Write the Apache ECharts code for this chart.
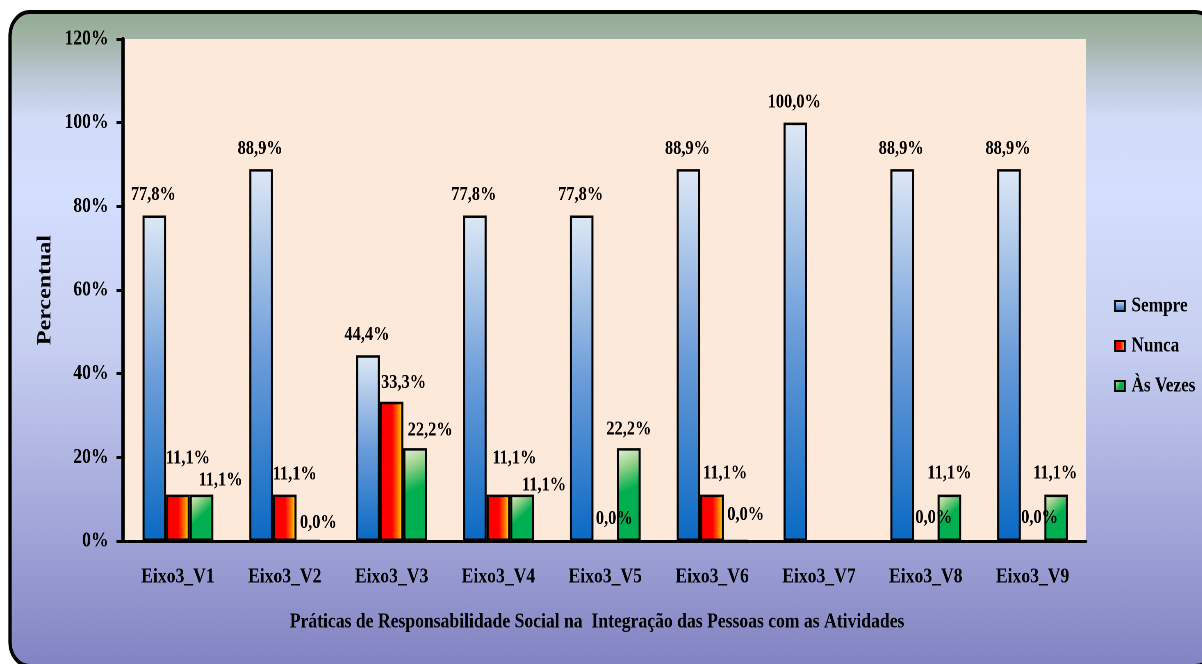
<!DOCTYPE html>
<html>
<head>
<meta charset="utf-8">
<script src="https://cdn.jsdelivr.net/npm/echarts@6/dist/echarts.min.js"></script>
<style>
  html, body { margin: 0; padding: 0; background: #ffffff; overflow: hidden; width: 1202px; height: 664px; }
  /* narrow serif look: the chart is laid out wide and squeezed horizontally */
  #chart { width: 1466px; height: 664px; transform: scaleX(0.82); transform-origin: 0 0; }
</style>
</head>
<body>
<div id="chart"></div>
<script>
// horizontal squeeze factor applied to the chart container
const SX = 0.82;

const categories = ['Eixo3_V1', 'Eixo3_V2', 'Eixo3_V3', 'Eixo3_V4', 'Eixo3_V5', 'Eixo3_V6', 'Eixo3_V7', 'Eixo3_V8', 'Eixo3_V9'];
const seriesNames = ['Sempre', 'Nunca', 'Às Vezes'];
const sempre  = [77.8, 88.9, 44.4, 77.8, 77.8, 88.9, 100.0, 88.9, 88.9];
const nunca   = [11.1, 11.1, 33.3, 11.1, 0.0, 11.1, null, 0.0, 0.0];
const asVezes = [11.1, 0.0, 22.2, 11.1, 22.2, 0.0, null, 11.1, 11.1];
const yTicks  = [0, 20, 40, 60, 80, 100, 120];

const xTitle = 'Práticas de Responsabilidade Social na  Integração das Pessoas com as Atividades';
const yTitle = 'Percentual';

// label nudges (screen px, label centre relative to the top centre of its bar)
const nuncaNudge = [[10, -36], [10, -20], [12, -19], [16, -36], [9, -21], [13, -21], null, [8, -22], [7, -22]];
const vezesNudge = [[19, -14], [10, -17], [15, -18], [22, -9], [0, -19], [10, -25], null, [0, -21], [-1, -21]];

const FONT = "'Liberation Serif', 'Times New Roman', serif";
const LABEL_SIZE = 20;
const G = echarts.graphic.LinearGradient;

const blueFill = new G(0, 0, 0, 1, [
  { offset: 0, color: '#DEE8F5' },
  { offset: 0.5, color: '#6C9DDA' },
  { offset: 1, color: '#0A69C3' }
]);
const redFill = new G(0, 0, 1, 0, [
  { offset: 0, color: '#FF0000' },
  { offset: 0.52, color: '#FF0000' },
  { offset: 0.78, color: '#FF7A00' },
  { offset: 1, color: '#FFFF00' }
]);
const greenFill = new G(0, 0, 1, 0.8, [
  { offset: 0, color: '#E8F2E0' },
  { offset: 0.25, color: '#9AD28A' },
  { offset: 0.55, color: '#00B050' },
  { offset: 1, color: '#00B050' }
]);
const frameFill = new G(0, 0, 0, 1, [
  { offset: 0, color: '#92AA92' },
  { offset: 0.045, color: '#A2B4A6' },
  { offset: 0.1, color: '#BAC7D4' },
  { offset: 0.165, color: '#D2DCF8' },
  { offset: 0.28, color: '#D4DEFE' },
  { offset: 0.5, color: '#C8D0F2' },
  { offset: 0.81, color: '#9EA2D6' },
  { offset: 1, color: '#8283C2' }
]);

const fmt = p => p.value.toFixed(1).replace('.', ',') + '%';

function withNudges(values, nudges) {
  return values.map((v, i) => {
    if (v == null) return '-';
    const n = nudges[i];
    return { value: v, label: { offset: [n[0] / SX, n[1] + LABEL_SIZE / 2] } };
  });
}

const labelBase = {
  show: true,
  position: 'top',
  distance: 0,
  color: '#000',
  fontFamily: FONT,
  fontWeight: 'bold',
  fontSize: LABEL_SIZE,
  lineHeight: LABEL_SIZE,
  formatter: fmt
};

const barWidth = 23.6 / SX;
const gridLeft = 124.5 / SX;
const gridRight = 1466 - 1086 / SX;

const chart = echarts.init(document.getElementById('chart'), null, { renderer: 'canvas', devicePixelRatio: 2 });

chart.setOption({
  animation: false,
  backgroundColor: 'transparent',
  graphic: {
    elements: [{
      type: 'rect',
      z: -10,
      silent: true,
      shape: { x: 10 / SX, y: 12, width: 1205 / SX, height: 654, r: 24 },
      style: { fill: frameFill, stroke: '#000', lineWidth: 4 }
    }]
  },
  grid: {
    left: gridLeft,
    right: gridRight,
    top: 39,
    bottom: 664 - 541,
    show: true,
    backgroundColor: '#FDE9DA',
    borderWidth: 0,
    containLabel: false,
    outerBoundsMode: 'none'
  },
  legend: {
    orient: 'vertical',
    left: 1110 / SX,
    top: 290.5,
    itemWidth: 10 / SX,
    itemHeight: 10,
    itemGap: 19,
    icon: 'rect',
    data: seriesNames,
    textStyle: { color: '#000', fontFamily: FONT, fontWeight: 'bold', fontSize: 21, padding: [0, 0, 0, 3] }
  },
  xAxis: {
    type: 'category',
    data: categories,
    axisLine: { show: true, lineStyle: { color: '#000', width: 3 } },
    axisTick: { show: false },
    axisLabel: { interval: 0, color: '#000', fontFamily: FONT, fontWeight: 'bold', fontSize: 21.5, margin: 25 },
    splitLine: { show: false },
    name: xTitle,
    nameLocation: 'middle',
    nameGap: 70,
    nameTextStyle: { color: '#000', fontFamily: FONT, fontWeight: 'bold', fontSize: 21.5, padding: [0, 20, 0, 0] }
  },
  yAxis: {
    type: 'value',
    min: yTicks[0],
    max: yTicks[yTicks.length - 1],
    interval: yTicks[1] - yTicks[0],
    offset: 2 / SX,
    axisLine: { show: true, lineStyle: { color: '#000', width: 4 } },
    axisTick: { show: true, inside: false, length: 6 / SX, lineStyle: { color: '#000', width: 3 } },
    axisLabel: { color: '#000', fontFamily: FONT, fontWeight: 'bold', fontSize: 21.5, margin: 17, formatter: v => v + '%' },
    splitLine: { show: false },
    name: yTitle,
    nameLocation: 'middle',
    nameGap: 82,
    nameTextStyle: { color: '#000', fontFamily: FONT, fontWeight: 'bold', fontSize: 24 }
  },
  series: [
    {
      name: seriesNames[0],
      type: 'bar',
      barWidth: barWidth,
      barGap: '0%',
      data: sempre,
      itemStyle: { color: blueFill, borderColor: '#000', borderWidth: 2.5 },
      label: Object.assign({}, labelBase, { distance: 10.5, offset: [-1 / SX, 0] })
    },
    {
      name: seriesNames[1],
      type: 'bar',
      barWidth: barWidth,
      barGap: '0%',
      data: withNudges(nunca, nuncaNudge),
      itemStyle: { color: redFill, borderColor: '#000', borderWidth: 2.5 },
      label: labelBase
    },
    {
      name: seriesNames[2],
      type: 'bar',
      barWidth: barWidth,
      barGap: '0%',
      data: withNudges(asVezes, vezesNudge),
      itemStyle: { color: greenFill, borderColor: '#000', borderWidth: 2.5 },
      label: labelBase
    }
  ]
});
</script>
</body>
</html>
